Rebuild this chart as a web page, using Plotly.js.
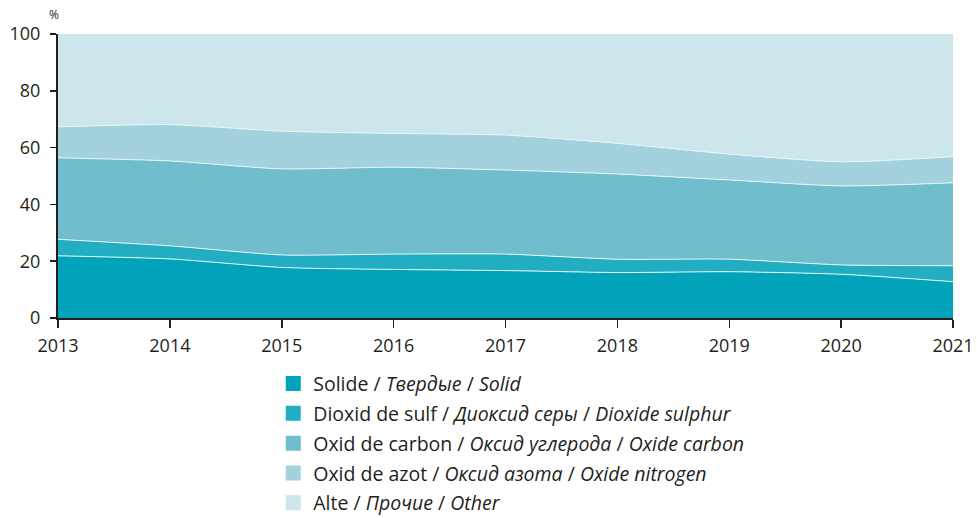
<!DOCTYPE html>
<html>
<head>
<meta charset="utf-8">
<script src="https://cdn.plot.ly/plotly-3.0.1.min.js"></script>
<style>html,body{margin:0;padding:0;background:#fff;}#chart{width:977px;height:518px;}</style>
</head>
<body>
<div id="chart"></div>
<script>
const years = [2013, 2014, 2015, 2016, 2017, 2018, 2019, 2020, 2021];
const solid   = [21.9, 20.8, 17.8, 17.1, 16.7, 16.0, 16.3, 15.4, 12.8];
const sulphur = [5.8, 4.6, 4.4, 5.4, 5.8, 4.7, 4.4, 3.3, 5.6];
const carbon  = [28.7, 29.9, 30.3, 30.6, 29.6, 30.0, 27.9, 27.8, 29.2];
const nitrogen= [10.9, 12.8, 13.3, 11.9, 12.3, 10.8, 9.1, 8.5, 9.2];
const other   = [32.7, 31.9, 34.2, 35.0, 35.6, 38.5, 42.3, 45.0, 43.2];
const seriesNames = [
  'Solide / <i>Твердые</i> / <i>Solid</i>',
  'Dioxid de sulf / <i>Диоксид серы</i> / <i>Dioxide sulphur</i>',
  'Oxid de carbon / <i>Оксид углерода</i> / <i>Oxide carbon</i>',
  'Oxid de azot / <i>Оксид азота</i> / <i>Oxide nitrogen</i>',
  'Alte / <i>Прочие</i> / <i>Other</i>'
];
const seriesValues = [solid, sulphur, carbon, nitrogen, other];
const colors = ['#00a3b9', '#22aec2', '#70bdcd', '#a3d2de', '#cde6eb'];
const edgeColors = ['#e8f6f8', '#e8f6f8', '#e8f6f8', '#e8f6f8', '#e2e6e8'];

const traces = [];
seriesValues.forEach((vals, i) => {
  traces.push({
    x: years, y: vals, type: 'scatter', mode: 'lines',
    stackgroup: 'one', fillcolor: colors[i],
    line: {color: edgeColors[i], width: 1, shape: 'spline', smoothing: 0.6},
    showlegend: false, hoverinfo: 'skip'
  });
});
seriesNames.forEach((name, i) => {
  traces.push({
    x: [null], y: [null], type: 'scatter', mode: 'markers', name: name,
    marker: {symbol: 'square', size: 15, color: colors[i]},
    legendgroup: 'g' + i, showlegend: true
  });
});

const layout = {
  width: 977, height: 518,
  margin: {l: 58, r: 24, t: 34, b: 200, autoexpand: false},
  paper_bgcolor: '#fff', plot_bgcolor: '#fff',
  font: {family: 'Open Sans, sans-serif', size: 18, color: '#231f20'},
  showlegend: true,
  legend: {
    x: 0.2405, xanchor: 'left', y: -0.163, yanchor: 'top',
    traceorder: 'grouped', tracegroupgap: 1.5,
    font: {size: 19.5, color: '#231f20'},
    itemwidth: 30, bgcolor: 'rgba(0,0,0,0)'
  },
  xaxis: {
    range: [2013, 2021], dtick: 1, tick0: 2013,
    showgrid: false, zeroline: false,
    showline: true, linecolor: '#231f20', linewidth: 2,
    ticks: 'outside', ticklen: 8, tickcolor: '#231f20', tickwidth: 1.5,
    tickfont: {size: 18}, ticklabelstandoff: 2
  },
  yaxis: {
    range: [0, 100], dtick: 20,
    showgrid: false, zeroline: false,
    showline: true, linecolor: '#231f20', linewidth: 2,
    ticks: 'outside', ticklen: 6, tickcolor: '#231f20', tickwidth: 1.5,
    tickfont: {size: 18}, ticklabelstandoff: 6
  },
  annotations: [{
    text: '%', xref: 'paper', yref: 'paper', x: 0, y: 1,
    xanchor: 'center', yanchor: 'bottom', xshift: -4, yshift: 9,
    showarrow: false, font: {size: 12, color: '#231f20'}
  }]
};

Plotly.newPlot('chart', traces, layout, {displayModeBar: false, staticPlot: true});
</script>
</body>
</html>
